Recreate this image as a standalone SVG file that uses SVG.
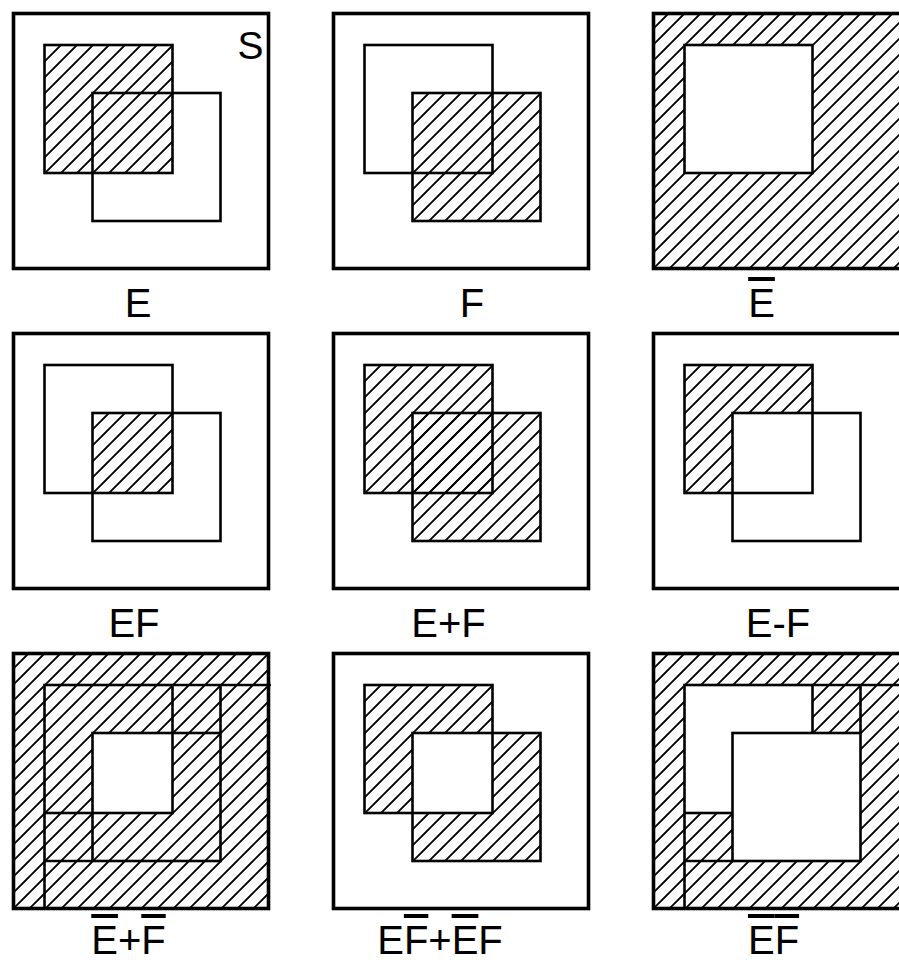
<svg xmlns="http://www.w3.org/2000/svg" width="899" height="962" viewBox="0 0 899 962">
<defs>
<pattern id="hatch" patternUnits="userSpaceOnUse" width="16" height="16">
<path d="M-1,11 L11,-1 M9,17 L17,9" stroke="#000" stroke-width="1.9" fill="none"/>
</pattern>
<style>
.outer{fill:none;stroke:#000;stroke-width:3.6}
.box{fill:none;stroke:#000;stroke-width:2.6}
.h{fill:url(#hatch)}
.w{fill:#fff}
.ln{fill:none;stroke:#000;stroke-width:2.6}
.lbl{font-family:"Liberation Sans",Arial,sans-serif;font-size:40px;fill:#000;text-anchor:middle}
.ov{text-decoration:overline;text-decoration-thickness:2px}
</style>
</defs>
<rect x="0" y="0" width="899" height="962" fill="#fff"/>

<g id="panel-E">
<rect class="outer" x="13.5" y="13.5" width="255" height="255"/>
<rect class="box h" x="44.5" y="45" width="128" height="128"/>
<rect class="box" x="92.5" y="93" width="128" height="128"/>
<text class="lbl" x="250.5" y="58.5" style="font-size:39px">S</text>
<text class="lbl" x="138" y="317">E</text>
</g>

<g id="panel-F" transform="translate(320,0)">
<rect class="outer" x="13.5" y="13.5" width="255" height="255"/>
<rect class="box" x="44.5" y="45" width="128" height="128"/>
<rect class="box h" x="92.5" y="93" width="128" height="128"/>
<text class="lbl" x="152" y="317">F</text>
</g>

<g id="panel-notE" transform="translate(640,0)">
<rect class="outer h" x="13.5" y="13.5" width="255" height="255"/>
<rect class="box w" x="44.5" y="45" width="128" height="128"/>
<text class="lbl" x="121.5" y="317"><tspan class="ov">E</tspan></text>
</g>

<g id="panel-EF" transform="translate(0,320)">
<rect class="outer" x="13.5" y="13.5" width="255" height="255"/>
<rect class="h" x="92.5" y="93" width="80" height="80"/>
<rect class="box" x="44.5" y="45" width="128" height="128"/>
<rect class="box" x="92.5" y="93" width="128" height="128"/>
<text class="lbl" x="134" y="316.5">EF</text>
</g>

<g id="panel-EplusF" transform="translate(320,320)">
<rect class="outer" x="13.5" y="13.5" width="255" height="255"/>
<rect class="box h" x="44.5" y="45" width="128" height="128"/>
<rect class="box h" x="92.5" y="93" width="128" height="128"/>
<text class="lbl" x="128.5" y="316.5">E+F</text>
</g>

<g id="panel-EminusF" transform="translate(640,320)">
<rect class="outer" x="13.5" y="13.5" width="255" height="255"/>
<rect class="h" x="44.5" y="45" width="128" height="128"/>
<rect class="w" x="92.5" y="93" width="80" height="80"/>
<rect class="box" x="44.5" y="45" width="128" height="128"/>
<rect class="box" x="92.5" y="93" width="128" height="128"/>
<text class="lbl" x="138" y="316.5">E-F</text>
</g>

<g id="panel-notEplusnotF" transform="translate(0,640)">
<rect class="outer h" x="13.5" y="13.5" width="255" height="255"/>
<rect class="w" x="92.5" y="93" width="80" height="80"/>
<rect class="box" x="44.5" y="45" width="128" height="128"/>
<rect class="box" x="92.5" y="93" width="128" height="128"/>
<path class="ln" d="M172.5,45 H271 M220.5,45 V93 M44.5,221 H92.5 M44.5,173 V269"/>
<text class="lbl" x="128.5" y="314"><tspan class="ov">E</tspan>+<tspan class="ov">F</tspan></text>
</g>

<g id="panel-symdiff" transform="translate(320,640)">
<rect class="outer" x="13.5" y="13.5" width="255" height="255"/>
<rect class="h" x="44.5" y="45" width="128" height="128"/>
<rect class="h" x="92.5" y="93" width="128" height="128"/>
<rect class="w" x="92.5" y="93" width="80" height="80"/>
<rect class="box" x="44.5" y="45" width="128" height="128"/>
<rect class="box" x="92.5" y="93" width="128" height="128"/>
<text class="lbl" x="120" y="314">E<tspan class="ov">F</tspan>+<tspan class="ov">E</tspan>F</text>
</g>

<g id="panel-notEnotF" transform="translate(640,640)">
<rect class="outer h" x="13.5" y="13.5" width="255" height="255"/>
<rect class="box w" x="44.5" y="45" width="128" height="128"/>
<rect class="box w" x="92.5" y="93" width="128" height="128"/>
<path class="ln" d="M172.5,45 H271 M220.5,45 V93 M44.5,221 H92.5 M44.5,173 V269"/>
<text class="lbl" x="133.5" y="314"><tspan class="ov">E</tspan><tspan class="ov">F</tspan></text>
</g>
</svg>
